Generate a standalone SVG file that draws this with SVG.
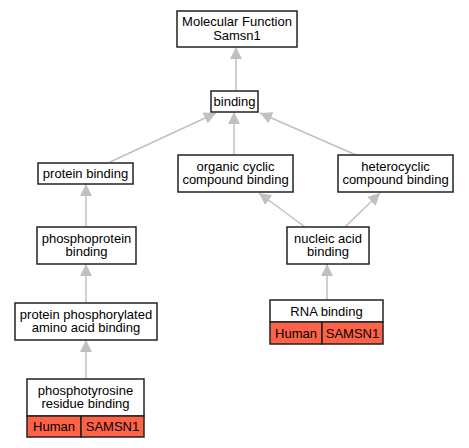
<svg xmlns="http://www.w3.org/2000/svg" width="469" height="448" viewBox="0 0 469 448">
<defs>
<marker id="ah" viewBox="0 0 12 12" refX="12" refY="6" markerWidth="12" markerHeight="12" markerUnits="userSpaceOnUse" orient="auto">
<path d="M0,0 L12,6 L0,12 z" fill="#c0c0c0"/>
</marker>
<style>
.box{fill:#fff;stroke:#222;stroke-width:1.5}
.sp{fill:#ff6347;stroke:#222;stroke-width:1.5}
.t{font-family:"Liberation Sans",Arial,sans-serif;font-size:13px;fill:#000;text-anchor:middle}
.e{stroke:#c0c0c0;stroke-width:1.5;fill:none;marker-end:url(#ah)}
</style>
</defs>
<rect width="469" height="448" fill="#fff"/>
<g id="edges">
<line class="e" x1="236" y1="91" x2="236" y2="47"/>
<line class="e" x1="110" y1="162" x2="216" y2="113"/>
<line class="e" x1="234" y1="155" x2="234" y2="112"/>
<line class="e" x1="356" y1="155" x2="260" y2="113"/>
<line class="e" x1="86" y1="227" x2="86" y2="184"/>
<line class="e" x1="305" y1="227" x2="259" y2="193"/>
<line class="e" x1="345" y1="227" x2="380" y2="193"/>
<line class="e" x1="86" y1="303" x2="86" y2="264"/>
<line class="e" x1="327" y1="300" x2="327" y2="264"/>
<line class="e" x1="86" y1="379" x2="86" y2="340"/>
</g>
<g id="mf">
<rect class="box" x="177" y="11" width="120" height="36"/>
<text class="t" x="237" y="25.5">Molecular Function</text>
<text class="t" x="237" y="39.5">Samsn1</text>
</g>
<g id="binding">
<rect class="box" x="211" y="91" width="47" height="21"/>
<text class="t" x="234.5" y="106">binding</text>
</g>
<g id="protein_binding">
<rect class="box" x="38" y="163" width="95" height="21"/>
<text class="t" x="85.5" y="178">protein binding</text>
</g>
<g id="organic">
<rect class="box" x="178" y="155" width="115" height="37"/>
<text class="t" x="235.5" y="170.5">organic cyclic</text>
<text class="t" x="235.5" y="184">compound binding</text>
</g>
<g id="hetero">
<rect class="box" x="338" y="155" width="115" height="37"/>
<text class="t" x="395.5" y="170.5">heterocyclic</text>
<text class="t" x="395.5" y="184">compound binding</text>
</g>
<g id="phosphoprotein">
<rect class="box" x="37" y="227" width="99" height="37"/>
<text class="t" x="86.5" y="242.5">phosphoprotein</text>
<text class="t" x="86.5" y="256">binding</text>
</g>
<g id="nucleic">
<rect class="box" x="287" y="227" width="82" height="37"/>
<text class="t" x="328" y="242.5">nucleic acid</text>
<text class="t" x="328" y="256">binding</text>
</g>
<g id="ppaa">
<rect class="box" x="15" y="303" width="142" height="37"/>
<text class="t" x="86" y="318.5">protein phosphorylated</text>
<text class="t" x="86" y="332">amino acid binding</text>
</g>
<g id="rna">
<rect class="box" x="270" y="300" width="113" height="22"/>
<text class="t" x="326.5" y="315.5">RNA binding</text>
<rect class="sp" x="270" y="322" width="52" height="22"/>
<rect class="sp" x="322" y="322" width="61" height="22"/>
<text class="t" x="296" y="337.5">Human</text>
<text class="t" x="352.5" y="337.5">SAMSN1</text>
</g>
<g id="ptyr">
<rect class="box" x="27" y="379" width="117" height="37"/>
<text class="t" x="85.5" y="394.5">phosphotyrosine</text>
<text class="t" x="85.5" y="408">residue binding</text>
<rect class="sp" x="27" y="416" width="54" height="21"/>
<rect class="sp" x="81" y="416" width="63" height="21"/>
<text class="t" x="54" y="431">Human</text>
<text class="t" x="112.5" y="431">SAMSN1</text>
</g>
</svg>
